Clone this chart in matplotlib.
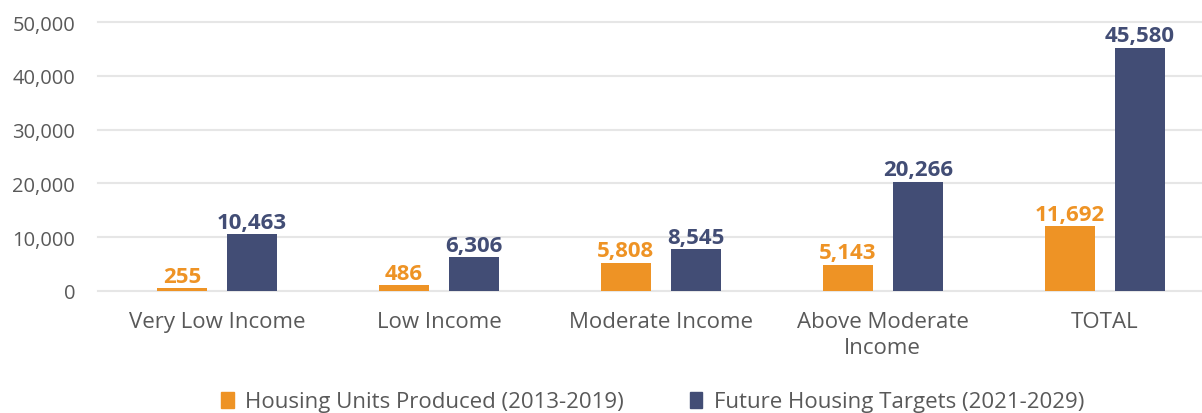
import matplotlib
matplotlib.use('Agg')
import matplotlib.pyplot as plt
from matplotlib.patches import Patch

plt.rcParams['font.family'] = ['Open Sans', 'DejaVu Sans']

categories = ['Very Low Income', 'Low Income', 'Moderate Income', 'Above Moderate\nIncome', 'TOTAL']
series_names = ['Housing Units Produced (2013-2019)', 'Future Housing Targets (2021-2029)']

# values printed on the bars
produced_labels = [255, 486, 5808, 5143, 11692]
targets_labels = [10463, 6306, 8545, 20266, 45580]

# bar heights as drawn in the picture (they don't quite match the labels)
produced_heights = [500, 1050, 5200, 4850, 12000]
targets_heights = [10550, 6200, 7750, 20300, 45300]

yticks = [0, 10000, 20000, 30000, 40000, 50000]

orange = '#EE9325'
navy = '#424D75'
grey_text = '#595959'

W, H = 1202, 414
fig = plt.figure(figsize=(W / 100, H / 100), dpi=100)
ax = fig.add_axes([98 / W, (H - 291.7) / H, (W - 98) / W, (291.7 - 23.3) / H])

x = list(range(len(categories)))
bw = 0.225
off = 0.158
b1 = ax.bar([i - off for i in x], produced_heights, bw, color=orange, zorder=3)
b2 = ax.bar([i + off for i in x], targets_heights, bw, color=navy, zorder=3)

for bars, labels, col in [(b1, produced_labels, orange), (b2, targets_labels, navy)]:
    for rect, val in zip(bars, labels):
        ax.annotate(f'{val:,}', (rect.get_x() + rect.get_width() / 2, rect.get_height()),
                    xytext=(0, 1), textcoords='offset points', ha='center', va='bottom',
                    color=col, fontsize=16, fontweight='bold')

ax.set_xlim((98 - 217) / 221.9, (W - 217) / 221.9)
ax.set_ylim(0, 50000)
ax.set_yticks(yticks)
ax.set_yticklabels([f'{v:,}' for v in yticks], color=grey_text, fontsize=14.5)
ax.set_xticks(x)
ax.set_xticklabels(categories, color=grey_text, fontsize=16, linespacing=1.3)
ax.tick_params(axis='both', length=0)
ax.tick_params(axis='y', pad=16.5)
ax.tick_params(axis='x', pad=14.5)
ax.yaxis.grid(True, color='#E6E6E6', linewidth=1.5, zorder=0)
ax.set_axisbelow(True)
for s in ax.spines.values():
    s.set_visible(False)
for g in ax.get_ygridlines():
    g.set_clip_on(False)

handles = [Patch(color=orange), Patch(color=navy)]
fig.legend(handles, series_names, loc='center', bbox_to_anchor=(0.543, (H - 403) / H),
           ncol=2, frameon=False, fontsize=16, handlelength=0.55, handleheight=0.7,
           handletextpad=0.5, columnspacing=3.0, labelcolor=grey_text)

fig.savefig('out.png', dpi=100)
